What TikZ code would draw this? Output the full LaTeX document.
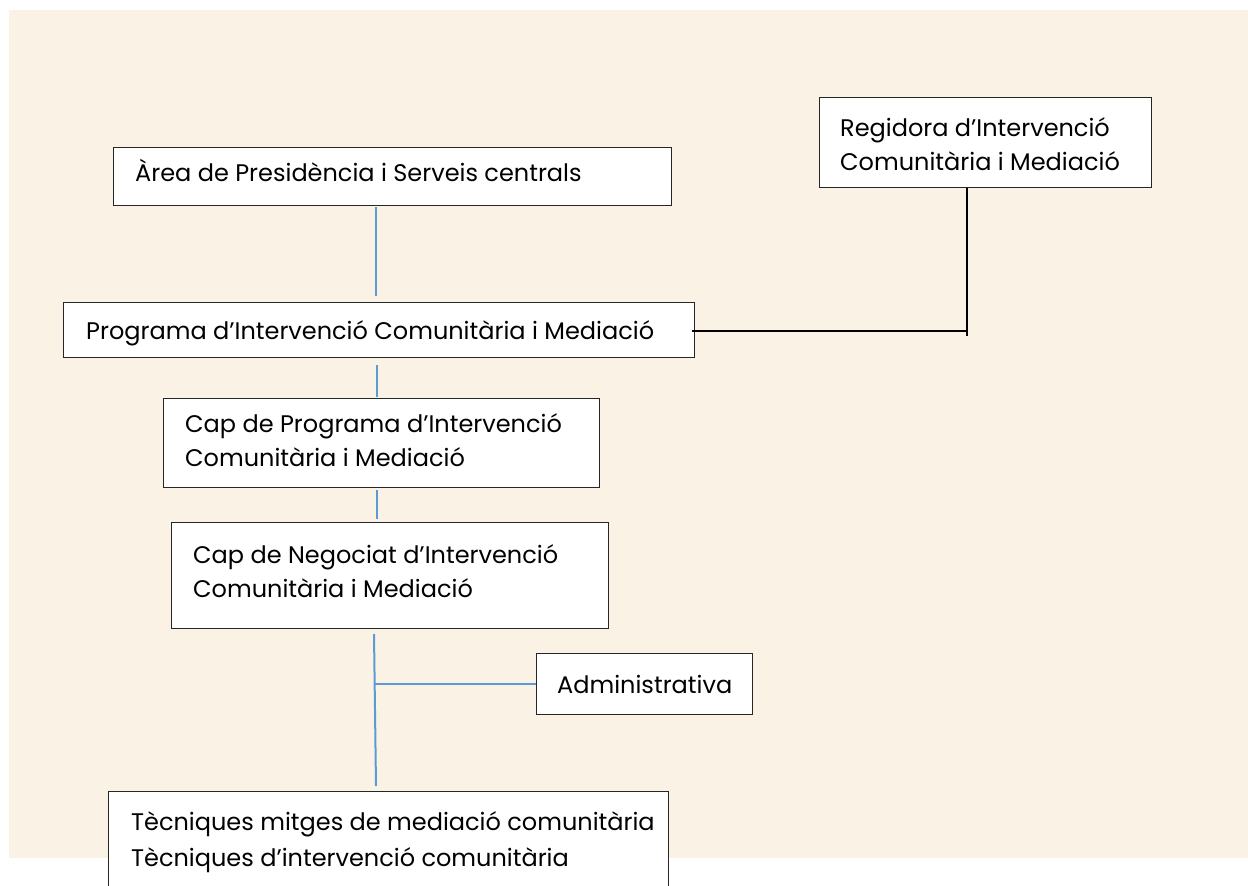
\documentclass[tikz,border=0pt]{standalone}
\usepackage{fontspec}
\setmainfont{Poppins}
\usetikzlibrary{calc}
\definecolor{bgbeige}{HTML}{FBF2E6}
\definecolor{linkblue}{HTML}{5B9BD5}
\tikzset{
  frame/.style={draw=black!85, line width=1.1pt, fill=white, anchor=north west, inner sep=0pt},
  label/.style={anchor=base west, inner sep=0pt, align=left, font=\fontsize{24}{34}\selectfont, text=black},
  bluelink/.style={draw=linkblue, line width=2pt},
  blacklink/.style={draw=black, line width=2pt},
}
\begin{document}
\begin{tikzpicture}[x=1pt,y=-1pt]
\useasboundingbox (0,0) rectangle (1248,886);
\fill[bgbeige] (9,10) rectangle (1248,858);

% boxes
\node[frame, minimum width=558pt, minimum height=58pt] (area) at (113,147) {};
\node[label] (areat) at (135,181) {Àrea de Presidència i Serveis centrals};

\node[frame, minimum width=332pt, minimum height=90pt] (regi) at (819,97) {};
\node[label] (regit) at (840,170) {Regidora d’Intervenció\\Comunitària i Mediació};

\node[frame, minimum width=631pt, minimum height=55pt] (prog) at (63,302) {};
\node[label] (progt) at (86,339) {Programa d’Intervenció Comunitària i Mediació};

\node[frame, minimum width=436pt, minimum height=89pt] (capp) at (163,398) {};
\node[label] (cappt) at (185,466) {Cap de Programa d’Intervenció\\Comunitària i Mediació};

\node[frame, minimum width=437pt, minimum height=106pt] (capn) at (171,522) {};
\node[label] (capnt) at (193,597) {Cap de Negociat d’Intervenció\\Comunitària i Mediació};

\node[frame, minimum width=216pt, minimum height=61pt] (admin) at (536,653) {};
\node[label] (admint) at (557,693) {Administrativa};

\node[frame, minimum width=560pt, minimum height=110pt] (tec) at (108,791) {};
\node[label] (tect) at (131,866) {Tècniques mitges de mediació comunitària\\[2pt]Tècniques d’intervenció comunitària};

% connectors
\coordinate (j1a) at (376,207);
\coordinate (j1b) at (376,296);
\draw[bluelink] (j1a) -- (j1b);
\coordinate (j2a) at (377,365);
\coordinate (j2b) at (377,397);
\draw[bluelink] (j2a) -- (j2b);
\coordinate (j3a) at (377,490);
\coordinate (j3b) at (377,519);
\draw[bluelink] (j3a) -- (j3b);
\coordinate (j4a) at (374,634);
\coordinate (j4b) at (376,786);
\draw[bluelink] (j4a) -- (j4b);
\coordinate (j5) at (374.6,684);
\draw[bluelink] (j5) -- (admin.west |- j5);

\coordinate (r1) at (967,187);
\coordinate (r2) at (967,336);
\draw[blacklink] (regi.south -| r1) -- (r2);
\coordinate (r3) at (692,331);
\draw[blacklink] (r3) -- (r3 -| r1);
\end{tikzpicture}
\end{document}
